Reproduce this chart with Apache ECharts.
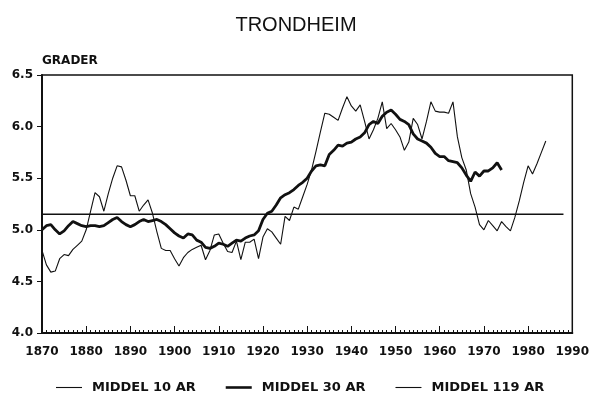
<!DOCTYPE html>
<html>
<head>
<meta charset="utf-8">
<script src="https://cdn.jsdelivr.net/npm/echarts@6/dist/echarts.min.js"></script>
<style>
  html, body { margin: 0; padding: 0; background: #fff; }
  #chart { width: 592px; height: 408px; }
</style>
</head>
<body>
<div id="chart"></div>
<script>
// Annual mean temperature, Trondheim (degrees C), moving averages.
const START_YEAR = 1870;

// 10-year running mean, 1870-1984
const middel10 = [
  4.80, 4.66, 4.59, 4.60, 4.72, 4.76, 4.75, 4.81, 4.85, 4.89,   // 1870-1879
  5.00, 5.18, 5.36, 5.32, 5.18, 5.35, 5.50, 5.62, 5.61, 5.48,   // 1880-1889
  5.33, 5.33, 5.18, 5.24, 5.29, 5.16, 4.98, 4.82, 4.80, 4.80,   // 1890-1899
  4.72, 4.65, 4.73, 4.78, 4.81, 4.83, 4.85, 4.71, 4.80, 4.95,   // 1900-1909
  4.96, 4.87, 4.79, 4.78, 4.89, 4.71, 4.88, 4.88, 4.91, 4.72,   // 1910-1919
  4.93, 5.01, 4.98, 4.92, 4.86, 5.13, 5.09, 5.22, 5.20, 5.32,   // 1920-1929
  5.44, 5.58, 5.76, 5.95, 6.13, 6.12, 6.09, 6.06, 6.18, 6.29,   // 1930-1939
  6.20, 6.15, 6.21, 6.05, 5.88, 5.97, 6.08, 6.24, 5.98, 6.03,   // 1940-1949
  5.97, 5.90, 5.77, 5.85, 6.08, 6.02, 5.88, 6.05, 6.24, 6.15,   // 1950-1959
  6.14, 6.14, 6.13, 6.24, 5.90, 5.70, 5.58, 5.35, 5.22, 5.05,   // 1960-1969
  5.00, 5.09, 5.04, 4.99, 5.08, 5.03, 4.99, 5.12, 5.28, 5.46,   // 1970-1979
  5.62, 5.54, 5.64, 5.75, 5.86                                  // 1980-1984
];

// 30-year running mean, 1870-1974
const middel30 = [
  5.00, 5.04, 5.05, 5.00, 4.96, 4.99, 5.04, 5.08, 5.06, 5.04,   // 1870-1879
  5.03, 5.04, 5.04, 5.03, 5.04, 5.07, 5.10, 5.12, 5.08, 5.05,   // 1880-1889
  5.03, 5.05, 5.08, 5.10, 5.08, 5.09, 5.10, 5.08, 5.05, 5.01,   // 1890-1899
  4.97, 4.94, 4.92, 4.96, 4.95, 4.90, 4.88, 4.83, 4.82, 4.84,   // 1900-1909
  4.87, 4.86, 4.84, 4.87, 4.90, 4.89, 4.92, 4.94, 4.95, 4.99,   // 1910-1919
  5.10, 5.16, 5.18, 5.24, 5.31, 5.34, 5.36, 5.39, 5.43, 5.46,   // 1920-1929
  5.50, 5.57, 5.62, 5.63, 5.62, 5.73, 5.77, 5.82, 5.81, 5.84,   // 1930-1939
  5.85, 5.88, 5.90, 5.94, 6.02, 6.05, 6.03, 6.10, 6.14, 6.16,   // 1940-1949
  6.12, 6.07, 6.05, 6.02, 5.93, 5.88, 5.86, 5.84, 5.80, 5.74,   // 1950-1959
  5.71, 5.71, 5.67, 5.66, 5.65, 5.60, 5.53, 5.47, 5.56, 5.52,   // 1960-1969
  5.57, 5.57, 5.60, 5.65, 5.58                                  // 1970-1974
];

// 119-year mean, drawn across the whole period
const middel119Years = [1870, 1988];
const middel119 = [5.15, 5.15];

// Axis ticks
const xTicks = [1870, 1880, 1890, 1900, 1910, 1920, 1930, 1940, 1950, 1960, 1970, 1980, 1990];
const yTicks = [4.0, 4.5, 5.0, 5.5, 6.0, 6.5];

const seriesNames = ['MIDDEL 10 AR', 'MIDDEL 30 AR', 'MIDDEL 119 AR'];

function toPairs(values, firstYear) {
  return values.map((v, i) => [firstYear + i, v]);
}

const INK = '#111';
const LABEL_FONT = 'DejaVu Sans';

// Plain line swatches for the legend, thin / thick / thin
const thinSwatch = 'path://M0 0 H26 V1.1 H0 Z';
const thickSwatch = 'path://M0 0 H26 V2.6 H0 Z';

const chart = echarts.init(document.getElementById('chart'), null, { renderer: 'canvas' });

chart.setOption({
  backgroundColor: '#fff',
  animation: false,
  title: {
    text: 'TRONDHEIM',
    left: 'center',
    top: 10,
    textStyle: { fontFamily: 'Liberation Sans', fontSize: 20, fontWeight: 'normal', color: INK }
  },
  grid: {
    left: 42, right: 18, top: 75, bottom: 75,
    show: true, borderColor: INK, borderWidth: 1.5, backgroundColor: 'transparent'
  },
  legend: {
    data: [
      { name: seriesNames[0], icon: thinSwatch },
      { name: seriesNames[1], icon: thickSwatch },
      { name: seriesNames[2], icon: thinSwatch }
    ],
    left: 51,
    top: 376,
    itemWidth: 26,
    itemHeight: 12,
    itemGap: 30,
    textStyle: { fontFamily: LABEL_FONT, fontWeight: 'bold', fontSize: 13, color: INK, padding: [0, 0, 0, 5] }
  },
  xAxis: {
    type: 'value',
    min: xTicks[0],
    max: xTicks[xTicks.length - 1],
    interval: 10,
    axisLine: { lineStyle: { color: INK, width: 2 } },
    axisTick: { inside: true, length: 7, lineStyle: { color: INK, width: 1 } },
    minorTick: { show: true, splitNumber: 10, length: 3, lineStyle: { color: INK, width: 1 } },
    splitLine: { show: false },
    axisLabel: {
      margin: 13,
      fontFamily: LABEL_FONT, fontWeight: 'bold', fontSize: 12, color: INK,
      formatter: v => String(v)
    }
  },
  yAxis: {
    type: 'value',
    min: yTicks[0],
    max: yTicks[yTicks.length - 1],
    interval: 0.5,
    name: 'GRADER',
    nameLocation: 'end',
    nameGap: 8,
    nameTextStyle: {
      align: 'left', verticalAlign: 'bottom',
      fontFamily: LABEL_FONT, fontWeight: 'bold', fontSize: 12, color: INK
    },
    axisLine: { show: true, lineStyle: { color: INK, width: 2 } },
    axisTick: { show: true, inside: false, length: 5, lineStyle: { color: INK, width: 1 } },
    splitLine: { show: false },
    axisLabel: {
      margin: 9,
      fontFamily: LABEL_FONT, fontWeight: 'bold', fontSize: 12, color: INK,
      formatter: v => v.toFixed(1)
    }
  },
  series: [
    {
      name: seriesNames[0],
      type: 'line',
      data: toPairs(middel10, START_YEAR),
      symbol: 'none',
      lineStyle: { color: INK, width: 1.1 },
      itemStyle: { color: INK },
      z: 3
    },
    {
      name: seriesNames[1],
      type: 'line',
      data: toPairs(middel30, START_YEAR),
      symbol: 'none',
      lineStyle: { color: INK, width: 2.8 },
      itemStyle: { color: INK },
      z: 4
    },
    {
      name: seriesNames[2],
      type: 'line',
      data: middel119Years.map((y, i) => [y, middel119[i]]),
      symbol: 'none',
      lineStyle: { color: INK, width: 1.4 },
      itemStyle: { color: INK },
      z: 2
    }
  ]
});
</script>
</body>
</html>
